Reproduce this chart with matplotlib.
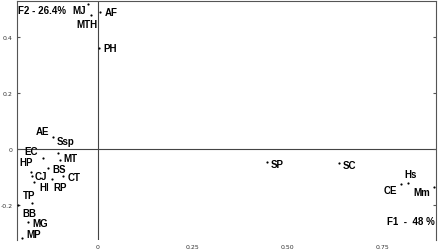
import matplotlib
matplotlib.use("Agg")
import matplotlib.pyplot as plt

# Factor scores (F1, F2) for each taxon
labels = ["MJ", "MTH", "AF", "PH", "AE", "Ssp", "EC", "HP", "MT", "BS", "CJ", "CT",
          "HI", "RP", "TP", "BB", "MG", "MP", "SP", "SC", "CE", "Hs", "Mm"]
f1 = [-0.026, -0.018, 0.005, 0.003, -0.105, -0.118, -0.176, -0.145, -0.100, -0.132, -0.174, -0.092,
      -0.168, -0.121, -0.174, -0.211, -0.184, -0.200, 0.445, 0.634, 0.797, 0.816, 0.884]
f2 = [0.518, 0.479, 0.489, 0.361, -0.014, 0.043, -0.082, -0.032, -0.039, -0.068, -0.096, -0.096,
      -0.118, -0.107, -0.193, -0.200, -0.261, -0.318, -0.046, -0.050, -0.125, -0.121, -0.136]

xticks = [0, 0.25, 0.50, 0.75]
xtick_labels = ["0", "0.25", "0.50", "0.75"]
yticks = [0.4, 0.2, 0, -0.2]
ytick_labels = ["0.4", "0.2", "0", "-0.2"]

# label placement: (dx, dy) in pixels from the point, horizontal alignment
place = {
    "MJ": (-2, -6, "right"), "MTH": (-4, -9, "center"), "AF": (5, 0, "left"), "PH": (4, 0, "left"),
    "AE": (-15, 22, "center"), "Ssp": (4, -4, "left"), "EC": (0, 21, "center"), "HP": (-10, -4, "right"),
    "MT": (4, 2, "left"), "BS": (5, -1, "left"), "CJ": (3, 0, "left"), "CT": (5, -1, "left"),
    "HI": (5, -5, "left"), "RP": (2, -8, "left"), "TP": (-3, 8, "center"), "BB": (5, -8, "left"),
    "MG": (4, -1, "left"), "MP": (5, 4, "left"), "SP": (4, -2, "left"), "SC": (4, -2, "left"),
    "CE": (-4, -6, "right"), "Hs": (3, 9, "center"), "Mm": (-4, -5, "right"),
}

fig = plt.figure(figsize=(4.4, 2.53), dpi=100)
ax = fig.add_axes([0.0375, 0.0474, 0.9545, 0.9446])
ax.set_xlim(-0.214, 0.891)
ax.set_ylim(-0.325, 0.529)

ax.axhline(0, color="#444444", lw=0.8, zorder=1)
ax.axvline(0, color="#444444", lw=0.8, zorder=1)

ax.scatter(f1, f2, s=2.5, color="black", zorder=3, linewidths=0)

font = dict(fontsize=7, fontweight="bold", family="Liberation Sans")
for name, x, y in zip(labels, f1, f2):
    dx, dy, ha = place[name]
    ax.annotate(name, (x, y), xytext=(dx * 0.72, dy * 0.72), textcoords="offset points",
                ha=ha, va="center", **font)

ax.text(2 / 420, 1 - 9 / 241, "F2 - 26.4%", transform=ax.transAxes, ha="left", va="center", **font)
ax.text(1 - 2 / 420, 1 - 222 / 241, "F1  -  48 %", transform=ax.transAxes, ha="right", va="center", **font)

for s in ["left", "top", "right"]:
    ax.spines[s].set_color("#555555")
    ax.spines[s].set_linewidth(0.8)
ax.spines["bottom"].set_visible(False)

ax.set_xticks(xticks)
ax.set_xticklabels(xtick_labels)
ax.set_yticks(yticks)
ax.set_yticklabels(ytick_labels)
ax.tick_params(axis="x", length=0, pad=3, labelsize=4.5, labelcolor="#333333")
ax.tick_params(axis="y", direction="in", length=2, left=True, right=True, pad=3,
               labelsize=4.5, labelcolor="#333333", color="#555555")

plt.savefig("out.png", dpi=100)
plt.close()
